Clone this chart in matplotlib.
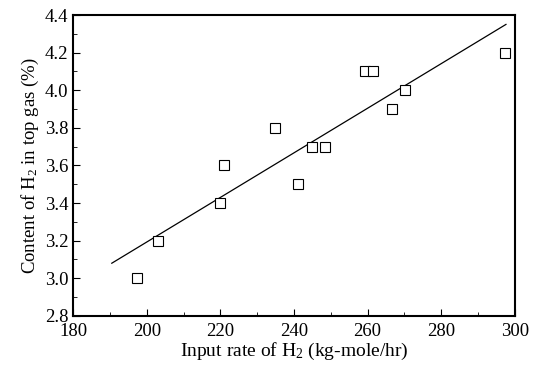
"""Scatter of H2 top-gas content against H2 input rate, with fitted line."""

import matplotlib
matplotlib.use("Agg")
import matplotlib.pyplot as plt
from matplotlib.ticker import MultipleLocator

# measured points
input_rate = [197.4, 203.1, 220.0, 221.0, 234.8, 241.2, 244.8, 248.4,
              259.3, 261.4, 266.7, 270.3, 297.3]
h2_content = [3.0, 3.2, 3.4, 3.6, 3.8, 3.5, 3.7, 3.7,
              4.1, 4.1, 3.9, 4.0, 4.2]

# regression line end points
fit_x = [190.5, 297.6]
fit_y = [3.08, 4.35]

plt.rcParams["font.family"] = ["Liberation Serif", "DejaVu Serif"]
plt.rcParams["mathtext.fontset"] = "custom"
plt.rcParams["mathtext.rm"] = "Liberation Serif"
plt.rcParams["mathtext.it"] = "Liberation Serif:italic"

fig = plt.figure(figsize=(5.5, 3.66), dpi=100)
ax = fig.add_axes([0.133, 0.137, 0.803, 0.822])

ax.plot(fit_x, fit_y, color="black", linewidth=0.9)
ax.plot(input_rate, h2_content, linestyle="none", marker="s", markersize=7,
        markerfacecolor="white", markeredgecolor="black", markeredgewidth=0.8)

ax.set_xlim(180, 300)
ax.set_ylim(2.8, 4.4)
ax.xaxis.set_major_locator(MultipleLocator(20))
ax.xaxis.set_minor_locator(MultipleLocator(10))
ax.yaxis.set_major_locator(MultipleLocator(0.2))
ax.yaxis.set_minor_locator(MultipleLocator(0.1))
ax.yaxis.set_major_formatter(plt.FormatStrFormatter("%.1f"))
ax.tick_params(which="both", direction="in", labelsize=13.5)
ax.tick_params(which="major", length=5)
ax.tick_params(which="minor", length=3)
ax.tick_params(axis="x", pad=5)
for spine in ax.spines.values():
    spine.set_linewidth(1.5)

ax.set_xlabel(r"Input rate of H$_2$ (kg-mole/hr)", fontsize=14, labelpad=1)
ax.set_ylabel(r"Content of H$_2$ in top gas (%)", fontsize=13.5, labelpad=3)

# the bottom y label sits raised above the corner, as in the original
fig.canvas.draw()
ax.get_yticklabels()[0].set_verticalalignment("bottom")

fig.savefig("out.png", dpi=100)
